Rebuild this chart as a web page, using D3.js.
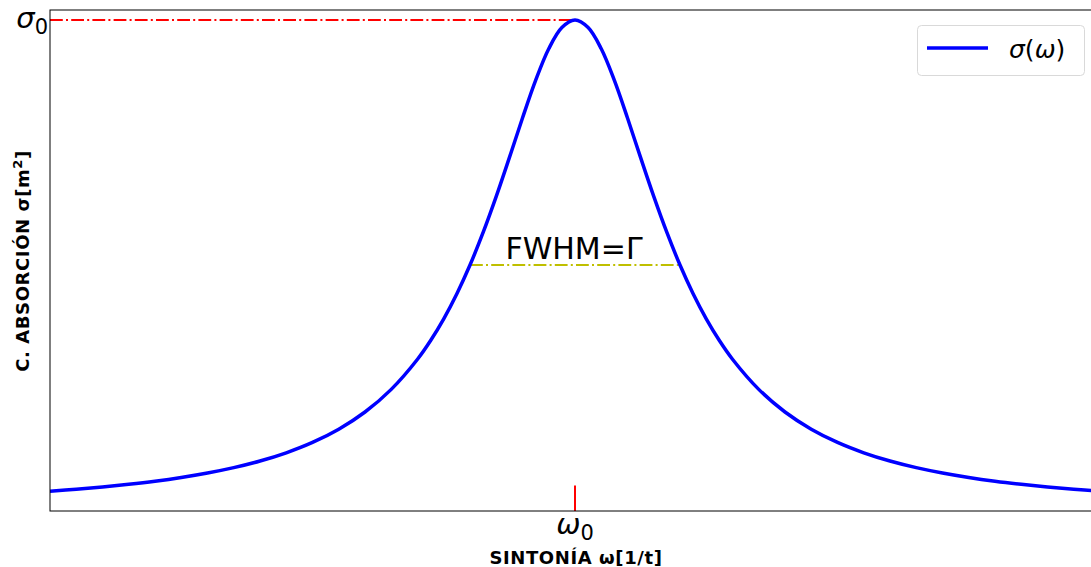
<!DOCTYPE html>
<html><head><meta charset="utf-8">
<script src="https://cdn.jsdelivr.net/npm/d3@7"></script>
<style>body{margin:0;background:#fff}svg{display:block;font-family:"DejaVu Sans",sans-serif}</style>
</head><body><svg id="c" width="1091" height="567"></svg>
<script>
// omega (in units of omega0) and sigma (in units of sigma0)
const omega = [0,0.05,0.1,0.15,0.2,0.25,0.3,0.35,0.4,0.45,0.5,0.55,0.6,0.65,0.7,0.725,0.75,0.775,0.8,0.825,0.85,0.875,0.9,0.925,0.95,0.975,1.0,1.025,1.05,1.075,1.1,1.125,1.15,1.175,1.2,1.225,1.25,1.275,1.3,1.35,1.4,1.45,1.5,1.55,1.6,1.65,1.7,1.75,1.8,1.85,1.9,1.95,2.0];
const sigma = [0.0385,0.0424,0.0471,0.0525,0.0588,0.0664,0.0755,0.0865,0.1,0.1168,0.1379,0.1649,0.2,0.2462,0.3077,0.3459,0.3902,0.4414,0.5,0.5664,0.64,0.7191,0.8,0.8767,0.9412,0.9846,1.0,0.9846,0.9412,0.8767,0.8,0.7191,0.64,0.5664,0.5,0.4414,0.3902,0.3459,0.3077,0.2462,0.2,0.1649,0.1379,0.1168,0.1,0.0865,0.0755,0.0664,0.0588,0.0525,0.0471,0.0424,0.0385];
const peakOmega = 1.0, peakSigma = 1.0;
const fwhmFrom = 0.8, fwhmTo = 1.2, halfSigma = 0.5;
const markerTop = 0.05;
const xTickLabels = ["ω"], yTickLabels = ["σ"];
const seriesName = "σ(ω)";

const svg = d3.select("#c");
const L = 50, T = 10, B = 511, R = 1100;
const x = d3.scaleLinear().domain([0, 2]).range([L, R]);
const y = d3.scaleLinear().domain([-0.002, 1.0204]).range([B, T]);

svg.append("defs").append("clipPath").attr("id","clip").append("rect")
  .attr("x",L).attr("y",T).attr("width",R-L).attr("height",B-T);
const g = svg.append("g").attr("clip-path","url(#clip)");

const dash = "12.8,3.2,2,3.2";
g.append("line").attr("x1",x(0)).attr("x2",x(peakOmega)).attr("y1",y(peakSigma)).attr("y2",y(peakSigma))
  .attr("stroke","#ff0000").attr("stroke-width",2).attr("stroke-dasharray",dash);
g.append("line").attr("x1",x(fwhmFrom)).attr("x2",x(fwhmTo)).attr("y1",y(halfSigma)).attr("y2",y(halfSigma))
  .attr("stroke","#bfbf00").attr("stroke-width",2).attr("stroke-dasharray",dash);
g.append("line").attr("x1",x(peakOmega)).attr("x2",x(peakOmega)).attr("y1",y(-0.002)).attr("y2",y(markerTop))
  .attr("stroke","#ff0000").attr("stroke-width",2);

const pts = omega.map((w,i)=>[w,sigma[i]]);
g.append("path").datum(pts)
  .attr("d", d3.line().x(d=>x(d[0])).y(d=>y(d[1])).curve(d3.curveCatmullRom))
  .attr("fill","none").attr("stroke","#0000ff").attr("stroke-width",3.5);

svg.append("rect").attr("x",L).attr("y",T).attr("width",R-L).attr("height",B-T)
  .attr("fill","none").attr("stroke","#000").attr("stroke-width",1);

const xa = svg.append("g").attr("transform",`translate(0,${B})`)
  .call(d3.axisBottom(x).tickValues([peakOmega]).tickSize(0).tickFormat(()=>""));
xa.select(".domain").remove();
const xt = svg.append("text").attr("x",x(peakOmega)).attr("y",534).attr("text-anchor","middle")
  .attr("font-size",29).attr("fill","#000");
xt.append("tspan").attr("font-style","italic").text(xTickLabels[0]);
xt.append("tspan").attr("font-size",21).attr("dy",6).text("0");

const ya = svg.append("g").attr("transform",`translate(${L},0)`)
  .call(d3.axisLeft(y).tickValues([peakSigma]).tickSize(0).tickFormat(()=>""));
ya.select(".domain").remove();
const yt = svg.append("text").attr("x",48).attr("y",28).attr("text-anchor","end")
  .attr("font-size",29).attr("fill","#000");
yt.append("tspan").attr("font-style","italic").text(yTickLabels[0]);
yt.append("tspan").attr("font-size",21).attr("dy",6).text("0");

svg.append("text").attr("x",x(peakOmega)-1).attr("y",259).attr("text-anchor","middle")
  .attr("font-size",30).attr("fill","#000").text("FWHM=Γ");

svg.append("text").attr("x",576).attr("y",564).attr("text-anchor","middle")
  .attr("font-size",18).attr("font-weight","bold").attr("letter-spacing",0.6).text("SINTONÍA ω[1/t]");
const yl = svg.append("text").attr("transform","translate(29,261) rotate(-90)").attr("text-anchor","middle")
  .attr("font-size",18).attr("font-weight","bold").attr("letter-spacing",0.6);
yl.append("tspan").text("C. ABSORCIÓN σ[m");
yl.append("tspan").attr("font-size",13).attr("dy",-7).text("2");
yl.append("tspan").attr("dy",7).text("]");

const lg = svg.append("g");
lg.append("rect").attr("x",917.5).attr("y",25.5).attr("width",167).attr("height",50).attr("rx",4)
  .attr("fill","#fff").attr("fill-opacity",0.8).attr("stroke","#d9d9d9");
lg.append("line").attr("x1",927).attr("x2",988).attr("y1",48).attr("y2",48).attr("stroke","#0000ff").attr("stroke-width",3.5);
const lt = lg.append("text").attr("x",1009).attr("y",58).attr("font-size",25).attr("fill","#000");
lt.append("tspan").attr("font-style","italic").text("σ");
lt.append("tspan").text("(");
lt.append("tspan").attr("font-style","italic").text("ω");
lt.append("tspan").text(")");
</script></body></html>
